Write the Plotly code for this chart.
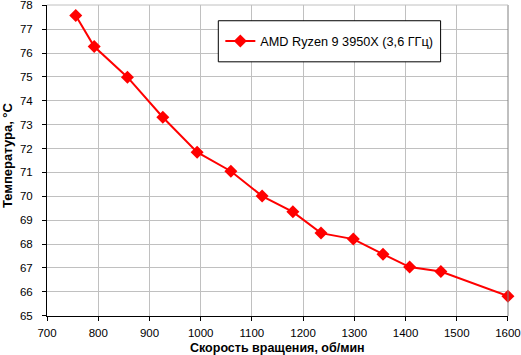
import plotly.graph_objects as go

rpm = [756, 792, 857, 926, 993, 1059, 1120, 1180, 1235, 1298, 1356, 1408, 1469, 1600]
temp = [77.57, 76.27, 74.99, 73.31, 71.85, 71.05, 70.01, 69.35, 68.46, 68.21, 67.58, 67.04, 66.85, 65.82]
series_name = "AMD Ryzen 9 3950X (3,6 ГГц)"
x_title = "Скорость вращения, об/мин"
y_title = "Температура, °C"
x_ticks = [700, 800, 900, 1000, 1100, 1200, 1300, 1400, 1500, 1600]
y_ticks = list(range(65, 79))

FONT = "Liberation Sans, Arial, sans-serif"

fig = go.Figure()
fig.add_trace(go.Scatter(
    x=rpm, y=temp, mode="lines+markers", name=series_name,
    line=dict(color="#ff0000", width=2),
    marker=dict(symbol="diamond", size=10, color="#ff0000"),
    cliponaxis=False,
))

fig.update_layout(
    width=521, height=355,
    margin=dict(l=47, r=13, t=5, b=39, autoexpand=False),
    paper_bgcolor="white", plot_bgcolor="white",
    font=dict(family=FONT, size=12, color="black"),
    showlegend=True,
    legend=dict(
        x=0.376, y=0.8834, xanchor="left", yanchor="middle",
        bgcolor="rgba(0,0,0,0)", borderwidth=0,
        font=dict(family=FONT, size=12.7, color="black"),
        itemwidth=30,
    ),
    xaxis=dict(
        range=[699.9, 1600.1], tickvals=x_ticks, ticktext=[str(v) for v in x_ticks],
        showgrid=True, gridcolor="#c0c0c0", gridwidth=1,
        showline=True, linecolor="black", linewidth=1,
        ticks="outside", ticklen=4, tickcolor="black",
        zeroline=False, mirror=False, automargin=False,
        ticklabeloverflow="allow", ticklabelstandoff=2,
        tickfont=dict(family=FONT, size=11.5),
    ),
    yaxis=dict(
        range=[64.99, 78.01], tickvals=y_ticks, ticktext=[str(v) for v in y_ticks],
        showgrid=True, gridcolor="#c0c0c0", gridwidth=1,
        showline=True, linecolor="black", linewidth=1,
        ticks="outside", ticklen=4, tickcolor="black",
        zeroline=False, automargin=False,
        ticklabeloverflow="allow", ticklabelstandoff=7,
        tickfont=dict(family=FONT, size=11.5),
    ),
    annotations=[
        dict(text="<b>" + x_title + "</b>", xref="paper", yref="paper",
             x=0.5, y=-0.1029, xanchor="center", yanchor="middle",
             showarrow=False, font=dict(family=FONT, size=12.5)),
        dict(text="<b>" + y_title + "</b>", xref="paper", yref="paper",
             x=-0.0846, y=0.5177, xanchor="center", yanchor="middle",
             textangle=-90, showarrow=False, font=dict(family=FONT, size=13)),
    ],
    shapes=[
        dict(type="line", xref="paper", yref="paper", x0=1, x1=1, y0=0, y1=1,
             line=dict(color="#808080", width=1)),
        dict(type="line", xref="paper", yref="paper", x0=0, x1=1, y0=1, y1=1,
             line=dict(color="#c0c0c0", width=1)),
        dict(type="rect", xref="paper", yref="paper", x0=0.3716, x1=0.8538,
             y0=0.8173, y1=0.9494, fillcolor="white",
             line=dict(color="black", width=1), layer="above"),
    ],
)

fig.write_html("out.html", config={"displayModeBar": False},
               post_script="document.body.style.margin='0';document.body.style.padding='0';")
